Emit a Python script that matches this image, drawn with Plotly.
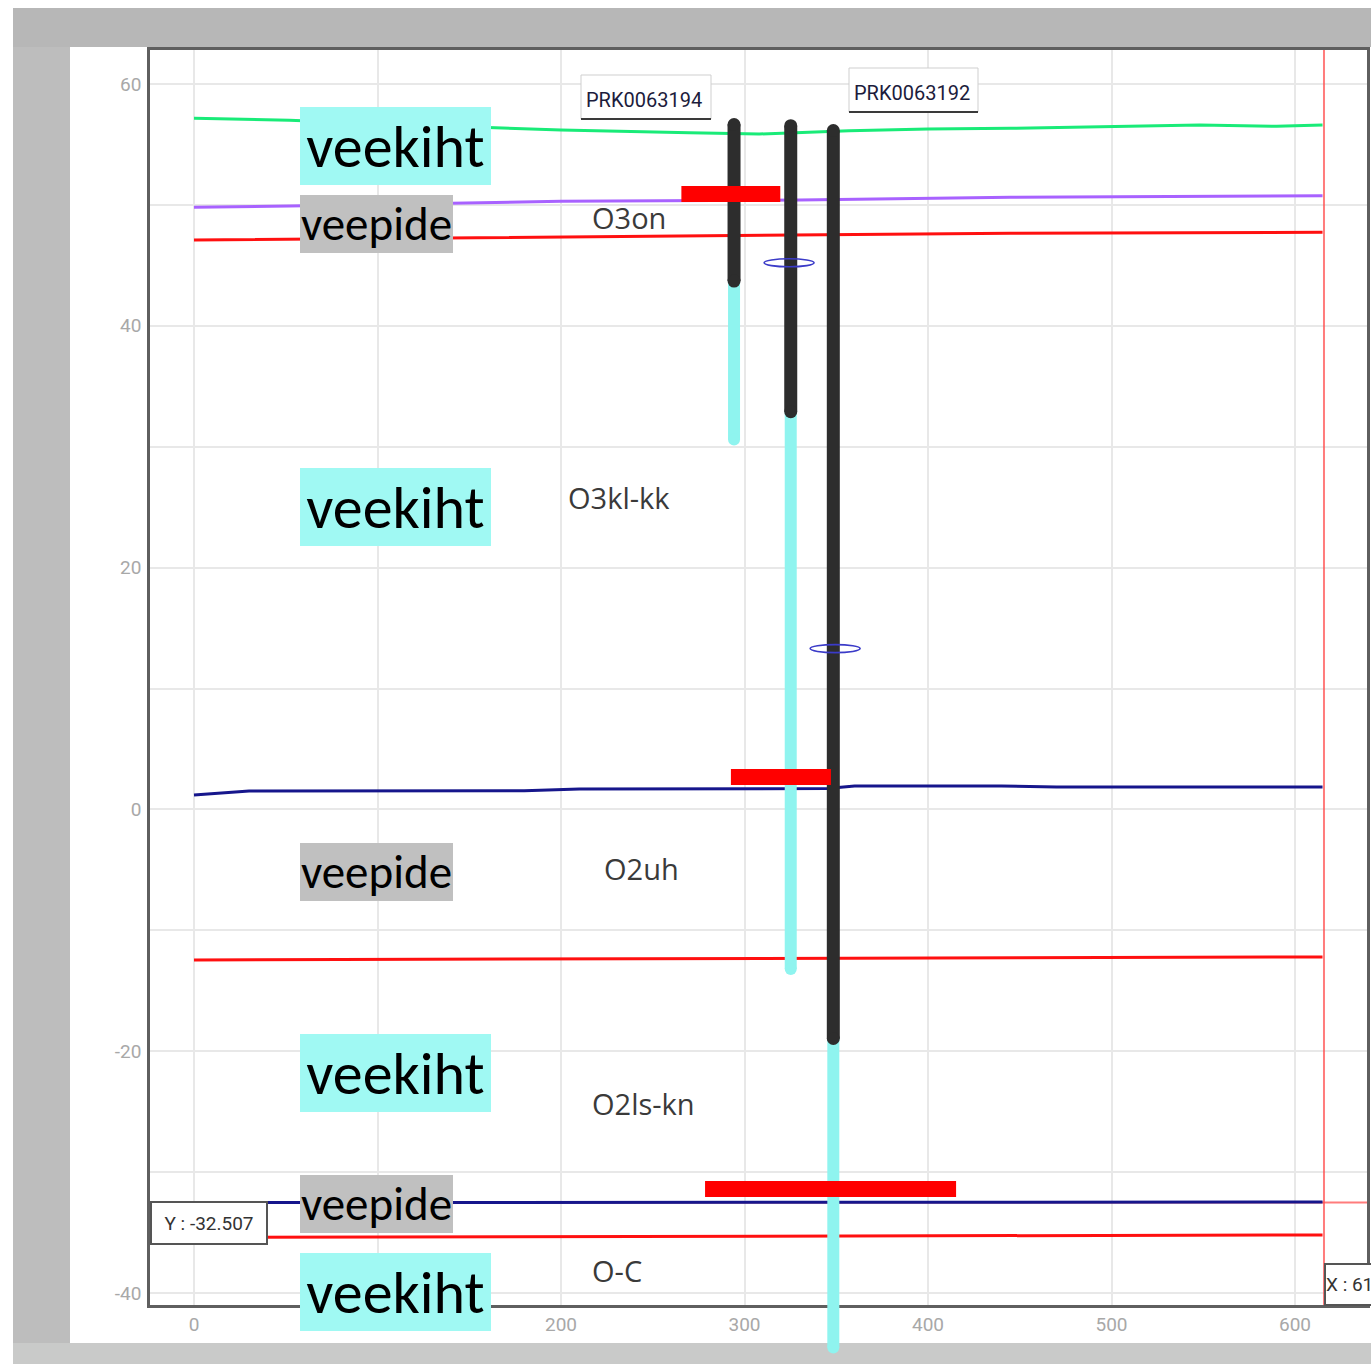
import plotly.graph_objects as go

# ---------------------------------------------------------------------------
# Data: cross-section along the profile (distance in m, elevation in m)
# ---------------------------------------------------------------------------
surface_x = [0, 32, 52, 120, 200, 270, 308, 357, 400, 445, 500, 548, 590, 615]
surface_z = [57.17, 57.1, 57.0, 56.6, 56.2, 55.97, 55.86, 56.14, 56.28, 56.34, 56.5, 56.6, 56.5, 56.6]

purple_x = [0, 52, 200, 330, 445, 615]
purple_z = [49.81, 49.9, 50.3, 50.4, 50.63, 50.76]

red_top_x = [0, 200, 445, 615]
red_top_z = [47.1, 47.37, 47.65, 47.73]

navy_top_x = [0, 30, 180, 210, 345, 360, 440, 470, 615]
navy_top_z = [1.19, 1.52, 1.55, 1.69, 1.72, 1.94, 1.94, 1.85, 1.85]

red_mid_x = [0, 330, 615]
red_mid_z = [-12.45, -12.3, -12.2]

navy_low_x = [0, 615]
navy_low_z = [-32.52, -32.48]

red_low_x = [0, 330, 615]
red_low_z = [-35.4, -35.3, -35.2]

# boreholes: position, top, bottom of casing, bottom of open hole
well_x = [294.3, 325.2, 348.4]
well_top = [56.65, 56.55, 56.15]
casing_bottom = [43.7, 32.9, -18.95]
well_bottom = [30.6, -13.2, -44.5]

# water levels
level_z = [50.9, 2.68, -31.4]
level_x0 = [265.6, 292.6, 278.5]
level_x1 = [319.5, 347.1, 415.3]

# level symbols
marker_x = [324.3, 349.4]
marker_z = [45.21, 13.3]

# well names
well_names = ["PRK0063194", "PRK0063192"]

# formation names
formation_names = ["O3on", "O3kl-kk", "O2uh", "O2ls-kn", "O-C"]

# layer type labels (top to bottom)
layer_labels = ["veekiht", "veepide", "veekiht", "veepide", "veekiht", "veepide", "veekiht"]

# cursor readout
cursor_x = 615.8
cursor_y = -32.507

# axis ticks
y_ticks = [-40, -20, 0, 20, 40, 60]
y_tick_text = ["-40", "-20", "0", "20", "40", "60"]
x_ticks = [0, 100, 200, 300, 400, 500, 600]
x_tick_text = ["0", "", "200", "300", "400", "500", "600"]

# ---------------------------------------------------------------------------
# Page geometry (pixels)
# ---------------------------------------------------------------------------
W, H = 1371, 1364
PX_X0, PX_PER_X = 194.0, 1.835
PX_Y0, PX_PER_Y = 809.4, 12.09
FRAME_L, FRAME_T, FRAME_R, FRAME_B = 150, 50, 1367, 1305


def to_x(px):
    return (px - PX_X0) / PX_PER_X


def to_y(py):
    return (PX_Y0 - py) / PX_PER_Y


def dx(px):
    return px / PX_PER_X


def dy(px):
    return px / PX_PER_Y


def pap_x(px):
    return px / W


def pap_y(py):
    return 1 - py / H


GREEN = "#19eb78"
PURPLE = "#a862ff"
RED = "#ff1010"
NAVY = "#16168c"
BLACK_WELL = "#2d2d2d"
CYAN_WELL = "#8ff4ef"
CYAN_BOX = "#a0f9f3"
GRAY_BOX = "#c0c0c0"
CURSOR = "rgba(255,80,80,0.75)"

fig = go.Figure()

# cursor cross-hair
fig.add_trace(go.Scatter(
    x=[cursor_x, cursor_x], y=[to_y(FRAME_B), to_y(FRAME_T)], mode="lines",
    line=dict(color=CURSOR, width=2), hoverinfo="skip", showlegend=False,
    xaxis="x", yaxis="y",
))
fig.add_trace(go.Scatter(
    x=[to_x(FRAME_L), to_x(FRAME_R)], y=[cursor_y, cursor_y], mode="lines",
    line=dict(color=CURSOR, width=2), hoverinfo="skip", showlegend=False,
    xaxis="x", yaxis="y",
))

# strata boundaries
for xs, zs, col in [
    (surface_x, surface_z, GREEN),
    (purple_x, purple_z, PURPLE),
    (red_top_x, red_top_z, RED),
    (navy_top_x, navy_top_z, NAVY),
    (red_mid_x, red_mid_z, RED),
    (navy_low_x, navy_low_z, NAVY),
    (red_low_x, red_low_z, RED),
]:
    fig.add_trace(go.Scatter(
        x=xs, y=zs, mode="lines", line=dict(color=col, width=3),
        hoverinfo="skip", showlegend=False, xaxis="x", yaxis="y",
    ))

# boreholes: open hole (cyan) beneath the casing (dark)
for wx, wt, cb, wb in zip(well_x, well_top, casing_bottom, well_bottom):
    fig.add_trace(go.Scatter(
        x=[wx, wx], y=[cb, wb], mode="lines+markers",
        line=dict(color=CYAN_WELL, width=12),
        marker=dict(color=CYAN_WELL, size=12, line=dict(width=0)),
        hoverinfo="skip", showlegend=False, xaxis="x2", yaxis="y2",
    ))
for wx, wt, cb, wb in zip(well_x, well_top, casing_bottom, well_bottom):
    fig.add_trace(go.Scatter(
        x=[wx, wx], y=[wt, cb], mode="lines+markers",
        line=dict(color=BLACK_WELL, width=13),
        marker=dict(color=BLACK_WELL, size=13, line=dict(width=0)),
        hoverinfo="skip", showlegend=False, xaxis="x2", yaxis="y2",
    ))

shapes = []
# page backdrop
shapes += [
    dict(type="rect", xref="paper", yref="paper", x0=pap_x(13), x1=1, y0=pap_y(47), y1=pap_y(8),
         fillcolor="#b7b7b7", line=dict(width=0), layer="below"),
    dict(type="rect", xref="paper", yref="paper", x0=pap_x(13), x1=pap_x(70), y0=pap_y(1343), y1=pap_y(47),
         fillcolor="#bdbdbd", line=dict(width=0), layer="below"),
    dict(type="rect", xref="paper", yref="paper", x0=pap_x(13), x1=1, y0=0, y1=pap_y(1343),
         fillcolor="#c9cac9", line=dict(width=0), layer="below"),
]

# water level bars
for z, a, b in zip(level_z, level_x0, level_x1):
    shapes.append(dict(type="rect", xref="x2", yref="y2", x0=a, x1=b,
                       y0=z - dy(8), y1=z + dy(8),
                       fillcolor="#ff0000", line=dict(width=0), layer="above"))

# level symbols
for mx, mz in zip(marker_x, marker_z):
    shapes.append(dict(type="circle", xref="x2", yref="y2",
                       x0=mx - dx(25), x1=mx + dx(25), y0=mz - dy(4), y1=mz + dy(4),
                       line=dict(color="#3b3bc8", width=1.6),
                       layer="above"))

annotations = []

# well name boxes
well_box_px = [(581, 75, 711, 119), (849, 68, 978, 112)]
for name, (l, t, r, b) in zip(well_names, well_box_px):
    shapes.append(dict(type="rect", xref="paper", yref="paper",
                       x0=pap_x(l), x1=pap_x(r), y0=pap_y(b), y1=pap_y(t),
                       fillcolor="white", line=dict(color="#cfcfcf", width=1), layer="above"))
    shapes.append(dict(type="line", xref="paper", yref="paper",
                       x0=pap_x(l), x1=pap_x(r), y0=pap_y(b), y1=pap_y(b),
                       line=dict(color="#3a3a3a", width=2), layer="above"))
    annotations.append(dict(
        xref="paper", yref="paper", x=pap_x(l + 3), y=pap_y((t + b) / 2 + 3),
        xanchor="left", yanchor="middle", text=name, showarrow=False,
        font=dict(family="Roboto", size=20, color="#1c1c3c"),
    ))

# formation names
formation_pos = [(629, 218), (619, 498), (641, 868), (643, 1103), (617, 1270)]
for name, (px, py) in zip(formation_names, formation_pos):
    annotations.append(dict(
        xref="x", yref="y", x=to_x(px), y=to_y(py), text=name, showarrow=False,
        xanchor="center", yanchor="middle",
        font=dict(family="Open Sans", size=29, color="#3a3a3a"),
    ))

# layer type labels
label_centers_px = [146, 224, 507.5, 872, 1073, 1204, 1291.5]
for txt, cy in zip(layer_labels, label_centers_px):
    aquifer = txt == "veekiht"
    annotations.append(dict(
        xref="x", yref="y", x=to_x(300), y=to_y(cy), text=txt, showarrow=False,
        xanchor="left", yanchor="middle",
        width=191 if aquifer else 153, height=78 if aquifer else 58,
        borderpad=0, borderwidth=0,
        bgcolor=CYAN_BOX if aquifer else GRAY_BOX,
        font=dict(family="Carlito, Lato, sans-serif", size=60 if aquifer else 47, color="black"),
    ))

# cursor readouts
annotations.append(dict(
    xref="paper", yref="paper", x=pap_x(150), y=pap_y(1201), text="Y : " + f"{cursor_y:.3f}",
    showarrow=False, xanchor="left", yanchor="top", width=114, height=40,
    borderpad=0, borderwidth=2, bordercolor="#555555", bgcolor="white",
    font=dict(family="Roboto", size=19, color="#333333"),
))
annotations.append(dict(
    xref="x", yref="paper", x=cursor_x, y=pap_y(1263), text="X : " + f"{cursor_x:.3f}",
    showarrow=False, xanchor="left", yanchor="top", width=112, height=39, align="left",
    borderpad=0, borderwidth=2, bordercolor="#555555", bgcolor="white",
    font=dict(family="Roboto", size=19, color="#333333"),
))

grid_col = "#e8e8e8"
tick_font = dict(family="Roboto", size=19, color="#a8a8a8")

fig.update_layout(
    width=W, height=H, margin=dict(l=0, r=0, t=0, b=0),
    paper_bgcolor="white", plot_bgcolor="rgba(0,0,0,0)",
    showlegend=False, shapes=shapes, annotations=annotations,
    xaxis=dict(
        domain=[pap_x(FRAME_L), pap_x(FRAME_R)],
        range=[to_x(FRAME_L), to_x(FRAME_R)],
        tickvals=x_ticks, ticktext=x_tick_text, ticks="",
        showgrid=True, gridcolor=grid_col, gridwidth=1.5,
        zeroline=False, showline=True, linecolor="#5f5f5f", linewidth=2.5, mirror=True,
        tickfont=tick_font, ticklabelstandoff=0, anchor="y", fixedrange=True,
    ),
    yaxis=dict(
        domain=[pap_y(FRAME_B), pap_y(FRAME_T)],
        range=[to_y(FRAME_B), to_y(FRAME_T)],
        tickvals=y_ticks, ticktext=y_tick_text, ticks="",
        showgrid=True, gridcolor=grid_col, gridwidth=1.5,
        minor=dict(dtick=10, showgrid=True, gridcolor=grid_col, gridwidth=1.5),
        zeroline=False, showline=True, linecolor="#5f5f5f", linewidth=2.5, mirror=True,
        tickfont=tick_font, ticklabelstandoff=2, anchor="x", fixedrange=True,
    ),
    xaxis2=dict(
        domain=[0, 1], range=[to_x(0), to_x(W)], anchor="y2",
        visible=False, showgrid=False, zeroline=False, fixedrange=True,
    ),
    yaxis2=dict(
        domain=[0, 1], range=[to_y(H), to_y(0)], anchor="x2",
        visible=False, showgrid=False, zeroline=False, fixedrange=True,
    ),
)

fig.write_html("out.html")
